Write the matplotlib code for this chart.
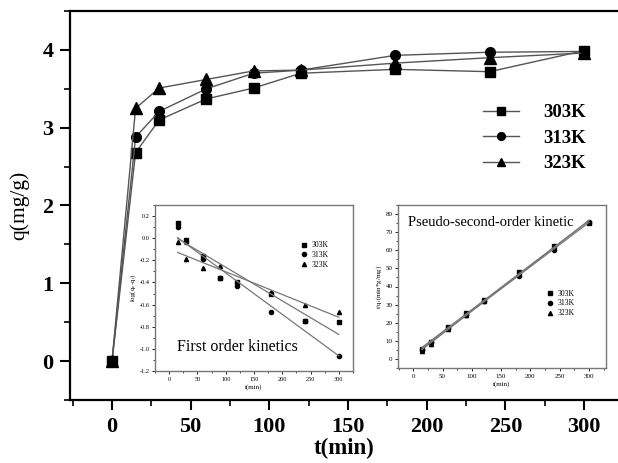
"""Adsorption kinetics: q vs t with first-order and pseudo-second-order insets."""

import matplotlib
matplotlib.use("Agg")
import matplotlib.pyplot as plt
import numpy as np
from matplotlib.ticker import MultipleLocator, FormatStrFormatter

plt.rcParams["font.family"] = ["Liberation Serif", "DejaVu Serif"]
plt.rcParams["mathtext.fontset"] = "stix"
plt.rcParams["axes.unicode_minus"] = False

LABELS = ["303K", "313K", "323K"]
MARKERS = ["s", "o", "^"]

# main plot: q(mg/g) vs t(min)
t_main = [0, 15, 30, 60, 90, 120, 180, 240, 300]
q_303 = [0, 2.68, 3.10, 3.37, 3.51, 3.70, 3.75, 3.72, 3.99]
q_313 = [0, 2.88, 3.21, 3.50, 3.70, 3.74, 3.93, 3.97, 3.98]
q_323 = [0, 3.25, 3.51, 3.62, 3.73, 3.74, 3.83, 3.90, 3.96]

# inset 1: log(qe - qt) vs t
t_fit = [15, 30, 60, 90, 120, 180, 240, 300]
log_303 = [0.14, -0.02, -0.16, -0.36, -0.40, -0.50, -0.75, -0.76]
log_313 = [0.10, -0.03, -0.19, -0.36, -0.43, -0.67, -0.75, -1.06]
log_323 = [-0.03, -0.19, -0.27, -0.25, -0.41, -0.49, -0.60, -0.67]

# inset 2: t/qt vs t
tq_303 = [5.5, 9.6, 17.7, 25.5, 32.3, 47.8, 62.3, 75.2]
tq_313 = [5.2, 9.3, 17.1, 24.3, 32.1, 45.8, 60.4, 75.4]
tq_323 = [4.6, 8.5, 16.6, 24.1, 32.1, 47.1, 61.5, 75.8]

W, H = 618, 463
fig = plt.figure(figsize=(W / 100, H / 100), dpi=100)


def box(x0, y0, x1, y1):
    return [x0 / W, 1 - y1 / H, (x1 - x0) / W, (y1 - y0) / H]


ax = fig.add_axes(box(70, 11, 618, 400))
for q, m, lab in zip([q_303, q_313, q_323], MARKERS, LABELS):
    ax.plot(t_main, q, color="#555555", lw=1.0, marker=m, ms=7 if m != "^" else 8,
            mfc="black", mec="black", label=lab)
ax.spines["right"].set_visible(False)
for s in ["left", "bottom", "top"]:
    ax.spines[s].set_linewidth(1.6)
ax.xaxis.set_major_locator(MultipleLocator(50))
ax.xaxis.set_minor_locator(MultipleLocator(25))
ax.yaxis.set_major_locator(MultipleLocator(1))
ax.yaxis.set_minor_locator(MultipleLocator(0.5))
ax.set_xlim(-26.7, 321.6)
ax.set_ylim(-0.5, 4.5)
ax.tick_params(which="major", direction="out", length=7, width=1.5, labelsize=16, pad=5)
ax.tick_params(which="minor", direction="out", length=4, width=1.2)
for lbl in ax.get_xticklabels() + ax.get_yticklabels():
    lbl.set_fontweight("bold")
ax.set_xlabel("t(min)", fontsize=16.5, fontweight="bold", labelpad=1)
ax.set_ylabel("q(mg/g)", fontsize=15.5, labelpad=9)
ax.legend(loc="upper left", bbox_to_anchor=(483 / W, 1 - 104 / H), bbox_transform=fig.transFigure,
          frameon=False, handlelength=1.9, handletextpad=1.3, labelspacing=0.45, borderpad=0,
          markerscale=0.8, prop={"weight": "bold", "size": 13.5}, borderaxespad=0)

gray = "#777777"

# inset 1: first order
a1 = fig.add_axes(box(155, 205, 353, 371))
for y, m, lab in zip([log_303, log_313, log_323], MARKERS, LABELS):
    a1.plot(t_fit, y, ls="none", marker=m, ms=3, color="black", label=lab)
for y in [log_303, log_313, log_323]:
    k, b = np.polyfit(t_fit, y, 1)
    xs = np.array([t_fit[0], t_fit[-1]])
    a1.plot(xs, k * xs + b, color=gray, lw=0.9)
a1.set_xlim(-25, 325)
a1.set_ylim(-1.2, 0.3)
a1.xaxis.set_major_locator(MultipleLocator(50))
a1.xaxis.set_minor_locator(MultipleLocator(25))
a1.yaxis.set_major_locator(MultipleLocator(0.2))
a1.yaxis.set_minor_locator(MultipleLocator(0.1))
a1.yaxis.set_major_formatter(FormatStrFormatter("%.1f"))
a1.tick_params(which="major", direction="out", length=2.5, width=0.6, labelsize=4.5, pad=1.5)
a1.tick_params(which="minor", direction="out", length=1.5, width=0.5)
for s in a1.spines.values():
    s.set_color(gray)
    s.set_linewidth(1.0)
a1.set_xlabel("t(min)", fontsize=5, labelpad=2)
a1.set_ylabel(r"log(q$_e$-q$_t$)", fontsize=5, labelpad=1)
a1.text(0.11, 0.145, "First order kinetics", transform=a1.transAxes, fontsize=11.5, va="center")
a1.legend(loc="upper left", bbox_to_anchor=(0.72, 0.8), frameon=False, fontsize=5.5,
          handlelength=0.8, handletextpad=0.6, labelspacing=0.25, borderaxespad=0)

# inset 2: pseudo-second-order
a2 = fig.add_axes(box(398, 205, 606, 368))
for y, m, lab in zip([tq_303, tq_313, tq_323], MARKERS, LABELS):
    a2.plot(t_fit, y, ls="none", marker=m, ms=3, color="black", label=lab)
for y in [tq_303, tq_313, tq_323]:
    k, b = np.polyfit(t_fit, y, 1)
    xs = np.array([t_fit[0], t_fit[-1]])
    a2.plot(xs, k * xs + b, color=gray, lw=0.9)
a2.set_xlim(-26, 329)
a2.set_ylim(-5, 85)
a2.xaxis.set_major_locator(MultipleLocator(50))
a2.xaxis.set_minor_locator(MultipleLocator(25))
a2.yaxis.set_major_locator(MultipleLocator(10))
a2.yaxis.set_minor_locator(MultipleLocator(5))
a2.tick_params(which="major", direction="out", length=2.5, width=0.6, labelsize=5, pad=1.5)
a2.tick_params(which="minor", direction="out", length=1.5, width=0.5)
for s in a2.spines.values():
    s.set_color(gray)
    s.set_linewidth(1.0)
a2.set_xlabel("t(min)", fontsize=5, labelpad=2)
a2.set_ylabel(r"t/q$_t$(min*g/mg)", fontsize=5, labelpad=1)
a2.text(0.048, 0.89, "Pseudo-second-order kinetic", transform=a2.transAxes, fontsize=10.5, va="center")
a2.legend(loc="upper left", bbox_to_anchor=(0.7, 0.5), frameon=False, fontsize=5.5,
          handlelength=0.8, handletextpad=0.6, labelspacing=0.25, borderaxespad=0)

fig.savefig("out.png", dpi=100)
